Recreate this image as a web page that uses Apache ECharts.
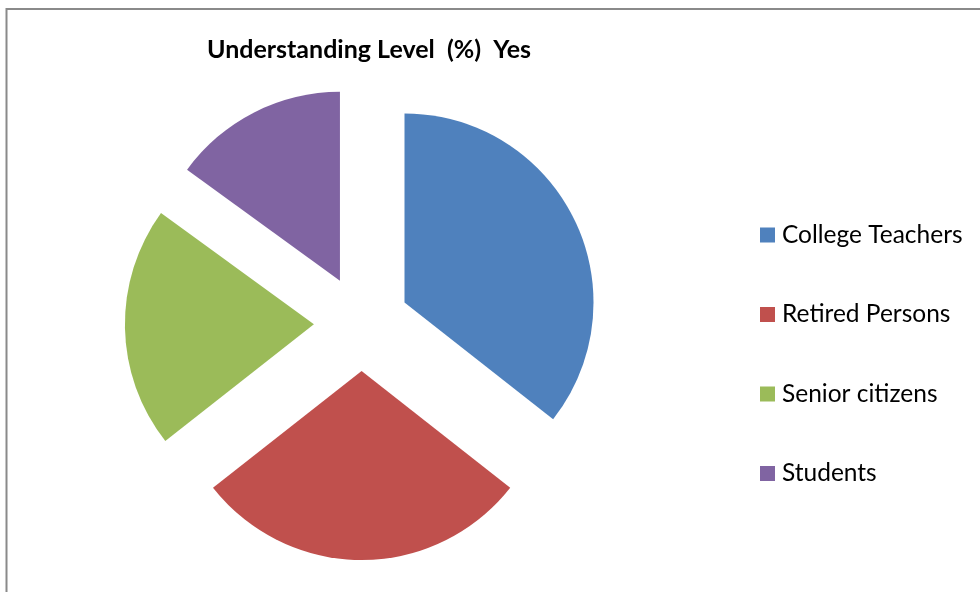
<!DOCTYPE html>
<html>
<head>
<meta charset="utf-8">
<script src="https://cdn.jsdelivr.net/npm/echarts@6/dist/echarts.min.js"></script>
<style>
html,body{margin:0;padding:0;background:#fff;}
#chart{width:980px;height:592px;}
</style>
</head>
<body>
<div id="chart"></div>
<script>
var categories = ["College Teachers", "Retired Persons", "Senior citizens", "Students"];
var values = [35.6, 28.8, 20.6, 15.0];
var colors = ["#4F81BD", "#C0504D", "#9BBB59", "#8064A2"];
var titleText = "Understanding Level  (%)  Yes";

var chart = echarts.init(document.getElementById('chart'));
var data = categories.map(function (c, i) {
  return { name: c, value: values[i], selected: true, itemStyle: { color: colors[i] } };
});
chart.setOption({
  animation: false,
  title: {
    text: titleText,
    left: 369,
    top: 37,
    textAlign: 'center',
    padding: 0,
    textStyle: { fontFamily: 'Lato', fontWeight: 'bold', fontSize: 25, color: '#000' }
  },
  legend: {
    orient: 'vertical',
    left: 760,
    top: 222.5,
    itemWidth: 15,
    itemHeight: 15,
    itemGap: 54.5,
    padding: 0,
    icon: 'rect',
    selectedMode: false,
    textStyle: { fontFamily: 'Lato', fontSize: 24.5, color: '#000', padding: [0, 0, 0, 2] },
    data: categories
  },
  graphic: [{
    type: 'rect',
    shape: { x: 6.5, y: 9, width: 1000, height: 600 },
    style: { fill: 'none', stroke: '#8a8a8a', lineWidth: 2 },
    silent: true
  }],
  series: [{
    type: 'pie',
    center: [361.6, 323.3],
    radius: 189,
    startAngle: 90,
    clockwise: true,
    selectedMode: 'multiple',
    selectedOffset: 47.7,
    label: { show: false },
    labelLine: { show: false },
    emphasis: { disabled: true },
    itemStyle: { borderWidth: 0 },
    data: data
  }]
});
</script>
</body>
</html>
